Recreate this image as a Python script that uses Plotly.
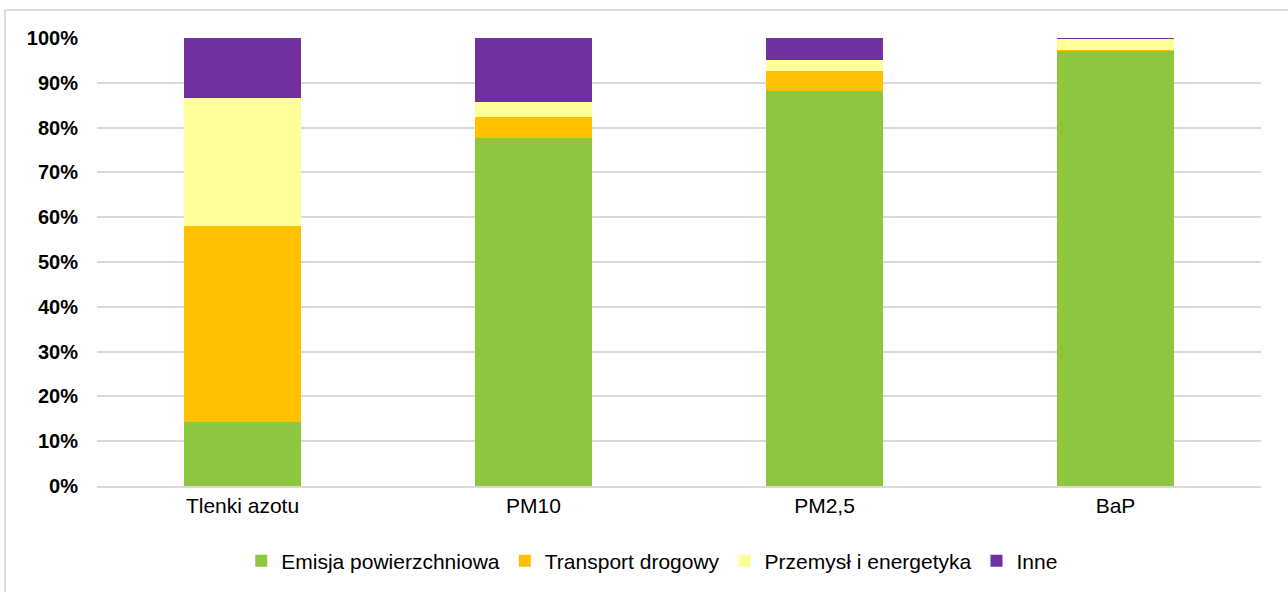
import plotly.graph_objects as go

categories = ["Tlenki azotu", "PM10", "PM2,5", "BaP"]
series_names = ["Emisja powierzchniowa", "Transport drogowy", "Przemysł i energetyka", "Inne"]
emisja = [14.3, 77.6, 88.2, 97.2]
transport = [43.8, 4.8, 4.4, 0.1]
przemysl = [28.4, 3.4, 2.5, 2.5]
inne = [13.5, 14.2, 4.9, 0.2]
colors = ["#8DC63F", "#FFC000", "#FFFF99", "#7030A0"]
tick_vals = [0, 10, 20, 30, 40, 50, 60, 70, 80, 90, 100]
tick_text = ["0%", "10%", "20%", "30%", "40%", "50%", "60%", "70%", "80%", "90%", "100%"]

fig = go.Figure()
for name, vals, col in zip(series_names, [emisja, transport, przemysl, inne], colors):
    fig.add_trace(go.Bar(x=categories, y=vals, name=name, marker_color=col,
                         marker_line_width=0))

W, H = 1288, 592
L, R, T, B = 97, 27, 38, 105
pw, ph = W - L - R, H - T - B

fig.update_layout(
    barmode="stack", barnorm="percent",
    width=W, height=H,
    margin=dict(l=L, r=R, t=T, b=B),
    paper_bgcolor="white", plot_bgcolor="white",
    bargap=0.6,
    font=dict(family="Liberation Sans, Arial, sans-serif", size=21, color="#000000"),
    legend=dict(orientation="h", x=0.477, xanchor="center", y=(H - B - 561) / ph,
                yanchor="middle", font=dict(size=21), itemwidth=30,
                traceorder="normal"),
    showlegend=True,
)
fig.update_xaxes(showgrid=False, showline=True, linecolor="#D9D9D9", linewidth=2,
                 ticks="", tickfont=dict(size=21))
fig.update_yaxes(range=[0, 100], tickvals=tick_vals,
                 ticktext=["<b>" + t + "</b>" for t in tick_text],
                 showgrid=True, gridcolor="#D9D9D9", gridwidth=1.5, zeroline=False,
                 tickfont=dict(size=20), ticklabelstandoff=18)

# chart frame border (left and top visible)
x0 = (5 - L) / pw
ytop = (H - B - 10) / ph
ybot = (H - B - H - 5) / ph
fig.add_shape(type="line", xref="paper", yref="paper", x0=x0, x1=x0, y0=ybot, y1=ytop,
              line=dict(color="#D6DCE5", width=2))
fig.add_shape(type="line", xref="paper", yref="paper", x0=x0, x1=(W + 5 - L) / pw, y0=ytop, y1=ytop,
              line=dict(color="#D6DCE5", width=2))

fig.write_html("out.html", config={"displayModeBar": False},
               post_script="document.body.style.margin='0';")
